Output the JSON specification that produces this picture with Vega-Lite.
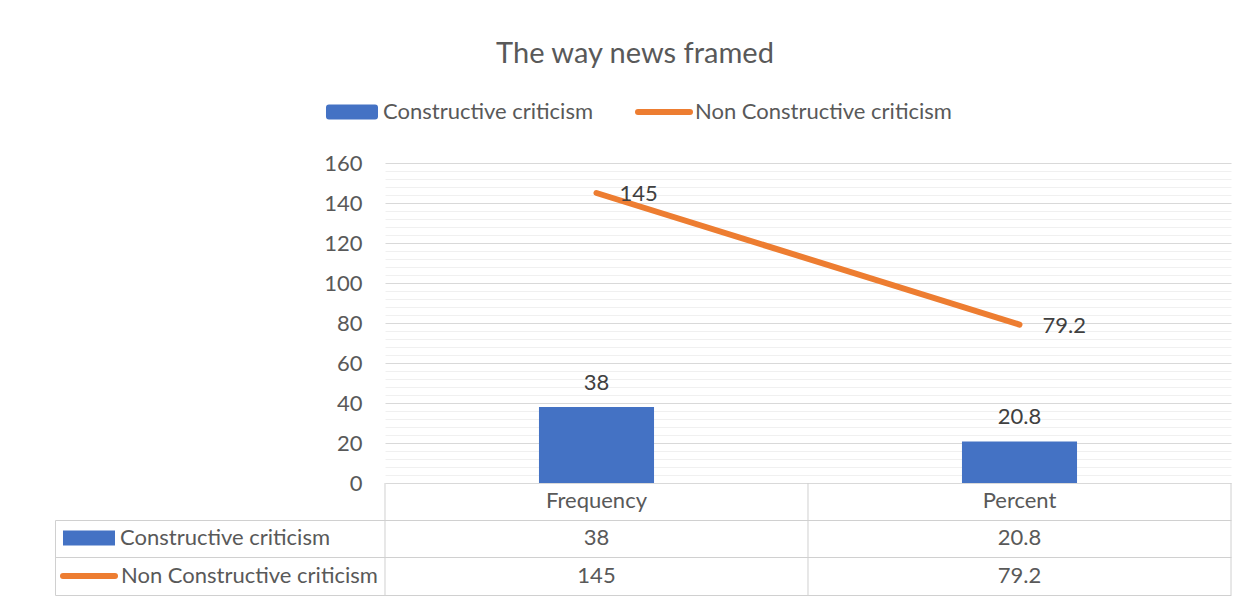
{
  "$schema": "https://vega.github.io/schema/vega-lite/v6.json",
  "autosize": {"type": "none"},
  "padding": {"left": 55, "top": 163, "right": 19, "bottom": 8},
  "width": 1176,
  "height": 432,
  "background": "white",
  "title": {"text": "The way news framed", "fontSize": 29, "font": "Lato", "fontWeight": "normal", "color": "#595959", "anchor": "middle", "frame": "group", "dx": -8, "offset": 14},
  "data": {"values": [
    {"category": "Frequency", "series": "Constructive criticism", "value": 38},
    {"category": "Percent", "series": "Constructive criticism", "value": 20.8},
    {"category": "Frequency", "series": "Non Constructive criticism", "value": 145},
    {"category": "Percent", "series": "Non Constructive criticism", "value": 79.2}
  ]},
  "resolve": {"axis": {"y": "independent"}},
  "layer": [
    {
      "transform": [{"filter": "datum.series === 'Constructive criticism'"}],
      "mark": {"type": "bar", "width": {"band": 0.272}},
      "encoding": {
        "x": {"field": "category", "type": "nominal", "scale": {"type": "band", "domain": ["Frequency", "Percent"], "paddingInner": 0, "paddingOuter": 0.39007, "align": 1}, "axis": null},
        "y": {"field": "value", "type": "quantitative", "scale": {"domain": [-56, 160], "nice": false, "zero": false},
              "axis": {"orient": "left", "values": [0, 20, 40, 60, 80, 100, 120, 140, 160], "offset": -330, "domain": false, "ticks": false, "grid": false, "labelPadding": 23, "labelFontSize": 22, "labelColor": "#595959", "labelFont": "Lato", "title": null}},
        "y2": {"datum": 0},
        "color": {"field": "series", "type": "nominal",
                  "scale": {"domain": ["Constructive criticism", "Non Constructive criticism"], "range": ["#4472C4", "#ED7D31"]},
                  "legend": {"orient": "none", "legendX": 268, "legendY": -80, "direction": "horizontal", "title": null, "padding": 0,
                             "labelFont": "Lato", "labelFontSize": 22, "labelColor": "#595959", "labelOffset": 2, "labelLimit": 0, "columnPadding": 41,
                             "symbolSize": 2704, "symbolStrokeWidth": 6,
                             "encode": {"symbols": {"update": {
                               "shape": {"signal": "datum.value === 'Constructive criticism' ? 'M-0.885,-0.173H0.885V0.173H-0.885Z' : 'M-1,0H1'"},
                               "fill": {"signal": "datum.value === 'Constructive criticism' ? '#4472C4' : null"},
                               "stroke": {"signal": "datum.value === 'Constructive criticism' ? '#4472C4' : '#ED7D31'"},
                               "strokeWidth": {"value": 6},
                               "strokeCap": {"signal": "datum.value === 'Constructive criticism' ? 'butt' : 'round'"},
                               "strokeJoin": {"value": "round"},
                               "opacity": {"value": 1}
                             }}}}}
      }
    },
    {
      "transform": [{"filter": "datum.series === 'Non Constructive criticism'"}],
      "mark": {"type": "line", "strokeWidth": 6, "strokeCap": "round"},
      "encoding": {
        "x": {"field": "category", "type": "nominal"},
        "y": {"field": "value", "type": "quantitative",
              "axis": {"orient": "left", "values": [0, 20, 40, 60, 80, 100, 120, 140, 160], "offset": -330, "domain": false, "labels": false, "grid": false, "ticks": true, "tickSize": -846, "tickColor": "#d9d9d9", "tickWidth": 1, "title": null}},
        "color": {"field": "series", "type": "nominal"}
      }
    },
    {
      "transform": [{"filter": "datum.series === 'Constructive criticism'"}],
      "mark": {"type": "text", "baseline": "alphabetic", "dy": -17, "fontSize": 22, "font": "Lato", "color": "#404040"},
      "encoding": {
        "x": {"field": "category", "type": "nominal"},
        "y": {"field": "value", "type": "quantitative",
              "axis": {"orient": "left", "values": [4, 8, 12, 16, 24, 28, 32, 36, 44, 48, 52, 56, 64, 68, 72, 76, 84, 88, 92, 96, 104, 108, 112, 116, 124, 128, 132, 136, 144, 148, 152, 156], "offset": -330, "domain": false, "labels": false, "grid": false, "ticks": true, "tickSize": -846, "tickColor": "#f0f0f0", "tickWidth": 1, "title": null}},
        "text": {"field": "value", "type": "nominal"}
      }
    },
    {
      "transform": [{"filter": "datum.series === 'Non Constructive criticism'"}],
      "mark": {"type": "text", "align": "left", "baseline": "middle", "dx": 23, "dy": 1, "fontSize": 22, "font": "Lato", "color": "#404040"},
      "encoding": {
        "x": {"field": "category", "type": "nominal"},
        "y": {"field": "value", "type": "quantitative",
              "axis": {"orient": "left", "values": [-18.5, -37, -56], "offset": 0, "labels": false, "grid": false, "ticks": true, "tickSize": -1176, "tickColor": "#d0d0d0", "tickWidth": 1, "domain": true, "domainColor": "#d0d0d0", "domainDash": [75, 2000], "title": null}},
        "text": {"field": "value", "type": "nominal"}
      }
    },
    {
      "transform": [{"filter": "datum.series === 'Constructive criticism'"}],
      "mark": {"type": "rule", "color": "#d0d0d0", "strokeWidth": 1},
      "encoding": {
        "x": {"field": "category", "type": "nominal", "bandPosition": 0},
        "y": {"datum": 0, "axis": null},
        "y2": {"datum": -56}
      }
    },
    {
      "transform": [{"filter": "datum.series === 'Constructive criticism' && datum.category === 'Percent'"}],
      "mark": {"type": "rule", "color": "#d0d0d0", "strokeWidth": 1},
      "encoding": {
        "x": {"field": "category", "type": "nominal", "bandPosition": 1},
        "y": {"datum": 0, "axis": null},
        "y2": {"datum": -56}
      }
    },
    {
      "transform": [{"filter": "datum.series === 'Constructive criticism'"}],
      "mark": {"type": "text", "baseline": "middle", "fontSize": 22, "font": "Lato", "color": "#595959"},
      "encoding": {
        "x": {"field": "category", "type": "nominal"},
        "y": {"datum": -9, "axis": null},
        "text": {"field": "category", "type": "nominal"}
      }
    },
    {
      "transform": [{"filter": "datum.series === 'Constructive criticism'"}],
      "mark": {"type": "text", "baseline": "middle", "fontSize": 22, "font": "Lato", "color": "#595959"},
      "encoding": {
        "x": {"field": "category", "type": "nominal"},
        "y": {"datum": -27.5, "axis": null},
        "text": {"field": "value", "type": "nominal"}
      }
    },
    {
      "transform": [{"filter": "datum.series === 'Non Constructive criticism'"}],
      "mark": {"type": "text", "baseline": "middle", "fontSize": 22, "font": "Lato", "color": "#595959"},
      "encoding": {
        "x": {"field": "category", "type": "nominal"},
        "y": {"datum": -46.5, "axis": null},
        "text": {"field": "value", "type": "nominal"}
      }
    },
    {
      "transform": [{"filter": "datum.series === 'Constructive criticism' && datum.category === 'Frequency'"}],
      "mark": {"type": "text", "align": "left", "baseline": "middle", "dx": -265, "fontSize": 22, "font": "Lato", "color": "#595959"},
      "encoding": {
        "x": {"field": "category", "type": "nominal", "bandPosition": 0},
        "y": {"datum": -27.5, "axis": null},
        "text": {"field": "series", "type": "nominal"}
      }
    },
    {
      "transform": [{"filter": "datum.series === 'Non Constructive criticism' && datum.category === 'Frequency'"}],
      "mark": {"type": "text", "align": "left", "baseline": "middle", "dx": -264, "fontSize": 22, "font": "Lato", "color": "#595959"},
      "encoding": {
        "x": {"field": "category", "type": "nominal", "bandPosition": 0},
        "y": {"datum": -46.5, "axis": null},
        "text": {"field": "series", "type": "nominal"}
      }
    },
    {
      "transform": [{"filter": "datum.series === 'Constructive criticism' && datum.category === 'Frequency'"}],
      "mark": {"type": "point", "shape": "M-1,-0.29H1V0.29H-1Z", "size": 2704, "filled": true, "color": "#4472C4", "opacity": 1, "xOffset": -296},
      "encoding": {
        "x": {"field": "category", "type": "nominal", "bandPosition": 0},
        "y": {"datum": -27.5, "axis": null}
      }
    },
    {
      "transform": [{"filter": "datum.series === 'Non Constructive criticism' && datum.category === 'Frequency'"}],
      "mark": {"type": "point", "shape": "M-1,0H1", "size": 2704, "filled": false, "stroke": "#ED7D31", "strokeWidth": 6, "strokeCap": "round", "opacity": 1, "xOffset": -296},
      "encoding": {
        "x": {"field": "category", "type": "nominal", "bandPosition": 0},
        "y": {"datum": -46.5, "axis": null}
      }
    }
  ],
  "config": {"view": {"stroke": null}, "font": "Lato", "text": {"font": "Lato"}}
}
